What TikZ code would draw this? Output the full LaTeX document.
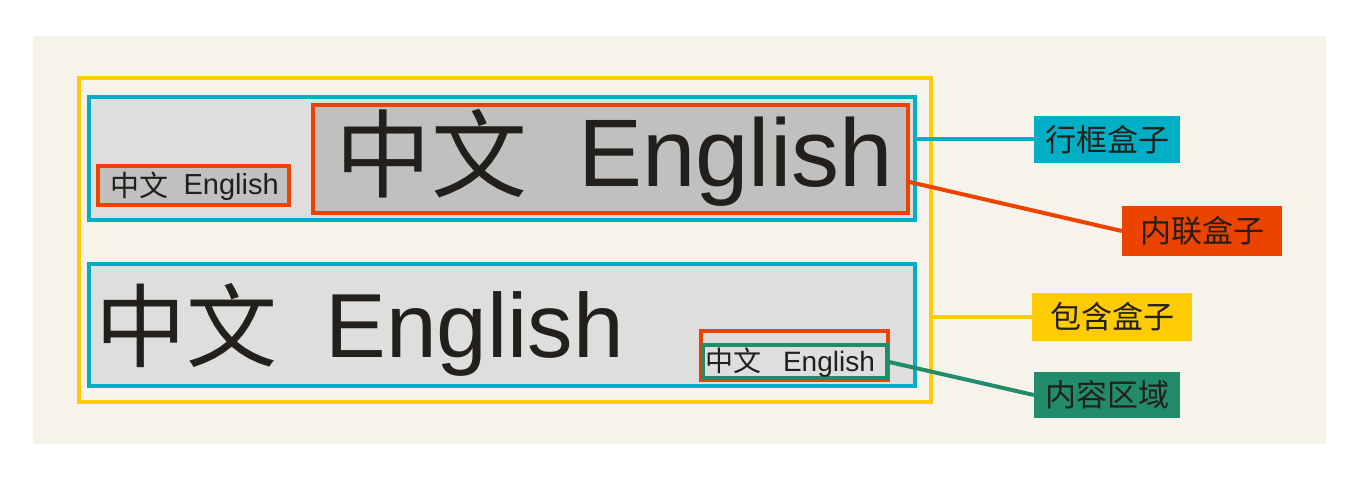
\documentclass[tikz,border=0pt]{standalone}
\usepackage{fontspec}
\setmainfont{Liberation Sans}
\newfontfamily\cjk{Noto Sans CJK SC}
\usepackage{tikz}
\usetikzlibrary{calc}

\definecolor{bgbeige}{HTML}{F5F3EA}
\definecolor{wrapyellow}{HTML}{FFCB05}
\definecolor{linecyan}{HTML}{00AFC6}
\definecolor{inlinered}{HTML}{EC4400}
\definecolor{contentgreen}{HTML}{228B6C}
\definecolor{linegray}{HTML}{DEDEDE}
\definecolor{inlinegray}{HTML}{C0C0C0}
\definecolor{inktext}{HTML}{231F1A}

\newcommand{\zhen}[1]{\raisebox{-0.035em}{\cjk 中文}\hspace{#1}English}

\begin{document}
\begin{tikzpicture}[x=1pt,y=-1pt,
  box/.style={rectangle,inner sep=0pt,outer sep=0pt,line width=4pt},
  wrapbox/.style={box,draw=wrapyellow},
  linebox/.style={box,draw=linecyan,fill=linegray},
  inlinebox/.style={box,draw=inlinered},
  contentbox/.style={box,draw=contentgreen},
  sample/.style={anchor=base west,inner sep=0pt,text=inktext},
  tag/.style={rectangle,inner sep=0pt,text=inktext,font=\cjk\fontsize{31}{32}\selectfont},
  link/.style={line width=4pt}]
\useasboundingbox (0,0) rectangle (1362,478);
\fill[bgbeige] (33,36) rectangle (1326,444);

% boxes
 \node[wrapbox,minimum width=852pt,minimum height=324pt] (wrap) at (505,240) {};
 \node[linebox,minimum width=826pt,minimum height=123pt] (line1) at (502,158.5) {};
 \node[linebox,minimum width=826pt,minimum height=122pt] (line2) at (502,325) {};
 \node[inlinebox,fill=inlinegray,minimum width=191pt,minimum height=39pt] (small1) at (193.5,185.5) {};
 \node[inlinebox,fill=inlinegray,minimum width=595pt,minimum height=108pt] (big1) at (610.5,159) {};
 \node[inlinebox,minimum width=187pt,minimum height=49pt] (small2) at (794.5,355.5) {};
 \node[contentbox,minimum width=184pt,minimum height=33pt] (content) at (795,361.5) {};

% texts
 \node[sample,font=\fontsize{29}{30}\selectfont] (txt1) at (110,195) {\zhen{0.53em}};
 \node[sample,font=\fontsize{96}{100}\selectfont] (txt2) at (335,187) {\zhen{0.53em}};
 \node[sample,font=\fontsize{91}{95}\selectfont] (txt3) at (95,357) {\zhen{0.53em}};
 \node[sample,font=\fontsize{28}{30}\selectfont] (txt4) at (705,371) {\zhen{0.78em}};

% labels
 \node[tag,fill=linecyan,minimum width=146pt,minimum height=47pt] (lab1) at (1107,139.5) {行框盒子};
 \node[tag,fill=inlinered,minimum width=160pt,minimum height=50pt] (lab2) at (1202,231) {内联盒子};
 \node[tag,fill=wrapyellow,minimum width=160pt,minimum height=48pt] (lab3) at (1112,317) {包含盒子};
 \node[tag,fill=contentgreen,minimum width=146pt,minimum height=46pt] (lab4) at (1107,395) {内容区域};

 \draw[link,linecyan] (lab1.west -| line1.east) -- (lab1.west);
 \draw[link,inlinered] ($(big1.north east)!0.71!(big1.south east)$) -- (lab2.west);
 \draw[link,wrapyellow] (lab3.west -| wrap.east) -- (lab3.west);
 \draw[link,contentgreen] (content.east) -- (lab4.west);
\end{tikzpicture}
\end{document}
